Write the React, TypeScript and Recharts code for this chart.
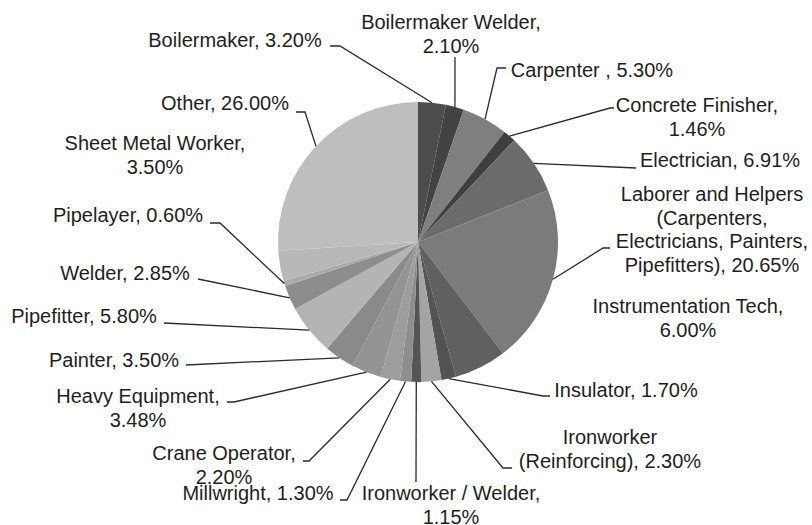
import { PieChart, Pie, Cell } from "recharts";

const trades = [
  "Boilermaker",
  "Boilermaker Welder",
  "Carpenter ",
  "Concrete Finisher",
  "Electrician",
  "Laborer and Helpers (Carpenters, Electricians, Painters, Pipefitters)",
  "Instrumentation Tech",
  "Insulator",
  "Ironworker (Reinforcing)",
  "Ironworker / Welder",
  "Millwright",
  "Crane Operator",
  "Heavy Equipment",
  "Painter",
  "Pipefitter",
  "Welder",
  "Pipelayer",
  "Sheet Metal Worker",
  "Other",
];

const shares = [3.2, 2.1, 5.3, 1.46, 6.91, 20.65, 6.0, 1.7, 2.3, 1.15, 1.3, 2.2, 3.48, 3.5, 5.8, 2.85, 0.6, 3.5, 26.0];

const grays = [
  "#4d4d4d", "#434343", "#7f7f7f", "#3f3f3f", "#6b6b6b", "#7b7b7b", "#606060", "#535353", "#a4a4a4", "#555555",
  "#8e8e8e", "#9d9d9d", "#949494", "#8a8a8a", "#b4b4b4", "#8d8d8d", "#a9a9a9", "#b8b8b8", "#bebebe",
];

// label placement: centre x, first baseline, words per line, leader points after the slice edge
type LabelSpot = { x: number; y: number; wrap?: number[]; path?: [number, number][] };

const spots: LabelSpot[] = [
  { x: 235, y: 47, path: [[340, 46], [330, 46]] },
  { x: 451, y: 29, wrap: [2, 1], path: [[455, 57]] },
  { x: 592, y: 77, path: [[497, 68], [506, 68]] },
  { x: 697, y: 112, wrap: [2, 1], path: [[610, 108], [614, 108]] },
  { x: 720, y: 167, path: [[636, 168]] },
  { x: 712, y: 201, wrap: [3, 1, 2, 2], path: [[603, 248], [610, 248]] },
  { x: 688, y: 313, wrap: [2, 1] },
  { x: 626, y: 397, path: [[543, 396], [550, 396]] },
  { x: 610, y: 444, wrap: [1, 2], path: [[503, 468], [512, 468]] },
  { x: 451, y: 500, wrap: [3, 1], path: [[416, 482]] },
  { x: 258, y: 500, path: [[347, 500], [340, 500]] },
  { x: 224, y: 460, wrap: [2, 1], path: [[309, 461], [303, 461]] },
  { x: 138, y: 403, wrap: [2, 1], path: [[234, 402], [227, 402]] },
  { x: 114, y: 367, path: [[186, 365]] },
  { x: 84, y: 323, path: [[164, 323]] },
  { x: 125, y: 280, path: [[198, 279]] },
  { x: 128, y: 222, path: [[220, 223], [210, 223]] },
  { x: 155, y: 150, wrap: [3, 1] },
  { x: 225, y: 110, path: [[305, 112], [296, 112]] },
];

const data = trades.map((name, i) => ({ name, value: shares[i] }));

const RAD = Math.PI / 180;

function renderLabel(props: any) {
  const { cx, cy, midAngle, outerRadius, index, name, value } = props;
  const spot = spots[index];
  const text = `${name}, ${value.toFixed(2)}%`;
  let lines = [text];
  if (spot.wrap) {
    const words = text.split(" ").filter((w) => w.length > 0);
    lines = [];
    let k = 0;
    for (const n of spot.wrap) {
      lines.push(words.slice(k, k + n).join(" "));
      k += n;
    }
  }
  let leader = null;
  if (spot.path) {
    const ex = cx + outerRadius * Math.cos(-midAngle * RAD);
    const ey = cy + outerRadius * Math.sin(-midAngle * RAD);
    const pts = [[ex, ey], ...spot.path].map((p) => p.join(",")).join(" ");
    leader = <polyline points={pts} fill="none" stroke="#2b2b2b" strokeWidth={1.3} />;
  }
  return (
    <g key={`lbl-${index}`}>
      {leader}
      <text x={spot.x} y={spot.y} textAnchor="middle" fill="#1e1e1e" fontSize={20} fontFamily="'Liberation Sans', Arial, sans-serif">
        {lines.map((ln, j) => (
          <tspan key={j} x={spot.x} dy={j === 0 ? 0 : 23.5}>
            {ln}
          </tspan>
        ))}
      </text>
    </g>
  );
}

export default function App() {
  return (
    <div style={{ position: "fixed", left: 0, top: 0, width: 812, height: 525, background: "#ffffff" }}>
      <PieChart width={812} height={525} margin={{ top: 0, right: 0, bottom: 0, left: 0 }}>
        <Pie
          data={data}
          dataKey="value"
          nameKey="name"
          cx={418}
          cy={242}
          outerRadius={140}
          startAngle={90}
          endAngle={-270}
          stroke="none"
          label={renderLabel}
          labelLine={false}
          isAnimationActive={false}
        >
          {data.map((d, i) => (
            <Cell key={d.name} fill={grays[i]} />
          ))}
        </Pie>
      </PieChart>
    </div>
  );
}
